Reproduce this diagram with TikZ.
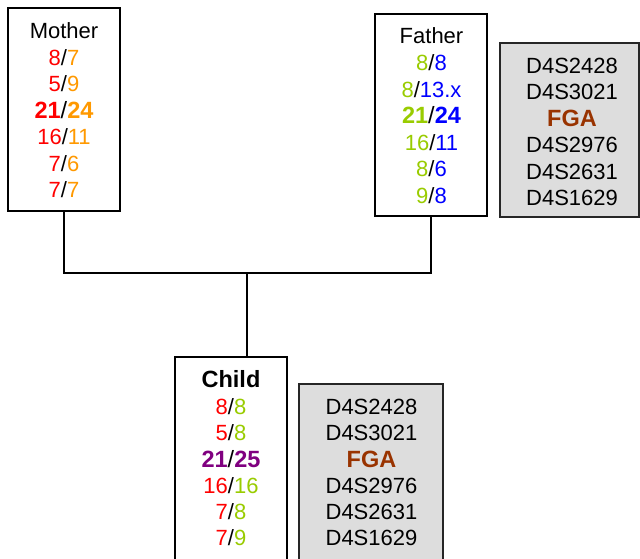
\documentclass[tikz,border=0pt]{standalone}
\usepackage{fontspec}
\setmainfont{Liberation Sans}
\definecolor{mred}{HTML}{FF0000}
\definecolor{morange}{HTML}{FF9900}
\definecolor{fgreen}{HTML}{99CC00}
\definecolor{fblue}{HTML}{0000FF}
\definecolor{cpurple}{HTML}{800080}
\definecolor{locbrown}{HTML}{993300}
\definecolor{locgray}{HTML}{DDDDDD}
\newcommand{\al}[4]{\textcolor{#1}{#2}/\textcolor{#3}{#4}}
\newcommand{\alb}[4]{\fontsize{23.5}{26}\selectfont\textcolor{#1}{\bfseries #2}/\textcolor{#3}{\bfseries #4}}
\begin{document}
\begin{tikzpicture}[x=1pt,y=-1pt,
  lbl/.style={anchor=base, inner sep=0pt, font=\fontsize{22}{26}\selectfont},
  heavy/.style={font=\fontsize{23.5}{26}\selectfont\bfseries},
  person/.style={draw=black, line width=2pt, fill=white, inner sep=0pt},
  locbox/.style={draw=black!85, line width=2pt, fill=locgray, inner sep=0pt},
  link/.style={line width=2pt}]
\useasboundingbox (0,0) rectangle (640,558);
\clip (0,0) rectangle (640,558);

% pedigree boxes and connectors
\coordinate (junction) at (247,273);
\node[person, minimum width=112pt, minimum height=203pt] (mother) at (64,109.5) {};
\node[person, minimum width=112pt, minimum height=202pt] (father) at (431,115) {};
\node[person, minimum width=112pt, minimum height=224pt] (child) at (231,469) {};
\draw[link] (mother.south) |- (junction) -| (father.south);
\draw[link] (junction) -- (junction |- child.north);

% locus name panels
\node[locbox, minimum width=139pt, minimum height=174pt] (floci) at (569.5,130) {};
\node[locbox, minimum width=144pt, minimum height=196pt] (cloci) at (371,482) {};

% mother
\node[lbl] (mt) at (64,38) {Mother};
\node[lbl] (m1) at (64,65) {\al{mred}{8}{morange}{7}};
\node[lbl] (m2) at (64,91.5) {\al{mred}{5}{morange}{9}};
\node[lbl] (m3) at (64,118) {\alb{mred}{21}{morange}{24}};
\node[lbl] (m4) at (64,144.5) {\al{mred}{16}{morange}{11}};
\node[lbl] (m5) at (64,171) {\al{mred}{7}{morange}{6}};
\node[lbl] (m6) at (64,197.5) {\al{mred}{7}{morange}{7}};

% father
\node[lbl] (ft) at (431.5,43.5) {Father};
\node[lbl] (f1) at (431.5,70.5) {\al{fgreen}{8}{fblue}{8}};
\node[lbl] (f2) at (431.5,97) {\al{fgreen}{8}{fblue}{13.x}};
\node[lbl] (f3) at (431.5,123.5) {\alb{fgreen}{21}{fblue}{24}};
\node[lbl] (f4) at (431.5,150) {\al{fgreen}{16}{fblue}{11}};
\node[lbl] (f5) at (431.5,176.5) {\al{fgreen}{8}{fblue}{6}};
\node[lbl] (f6) at (431.5,203) {\al{fgreen}{9}{fblue}{8}};

% father loci
\node[lbl] (fl1) at (572,73) {D4S2428};
\node[lbl] (fl2) at (572,99.5) {D4S3021};
\node[lbl, heavy, text=locbrown] (fl3) at (572,126.5) {FGA};
\node[lbl] (fl4) at (572,152.5) {D4S2976};
\node[lbl] (fl5) at (572,179) {D4S2631};
\node[lbl] (fl6) at (572,205) {D4S1629};

% child
\node[lbl, heavy] (ct) at (231,387.5) {Child};
\node[lbl] (c1) at (231,414) {\al{mred}{8}{fgreen}{8}};
\node[lbl] (c2) at (231,440.5) {\al{mred}{5}{fgreen}{8}};
\node[lbl] (c3) at (231,467) {\alb{cpurple}{21}{cpurple}{25}};
\node[lbl] (c4) at (231,493.3) {\al{mred}{16}{fgreen}{16}};
\node[lbl] (c5) at (231,519.5) {\al{mred}{7}{fgreen}{8}};
\node[lbl] (c6) at (231,545.5) {\al{mred}{7}{fgreen}{9}};

% child loci
\node[lbl] (cl1) at (371.5,414) {D4S2428};
\node[lbl] (cl2) at (371.5,440.5) {D4S3021};
\node[lbl, heavy, text=locbrown] (cl3) at (371.5,467) {FGA};
\node[lbl] (cl4) at (371.5,493.3) {D4S2976};
\node[lbl] (cl5) at (371.5,519.5) {D4S2631};
\node[lbl] (cl6) at (371.5,545.5) {D4S1629};
\end{tikzpicture}
\end{document}
